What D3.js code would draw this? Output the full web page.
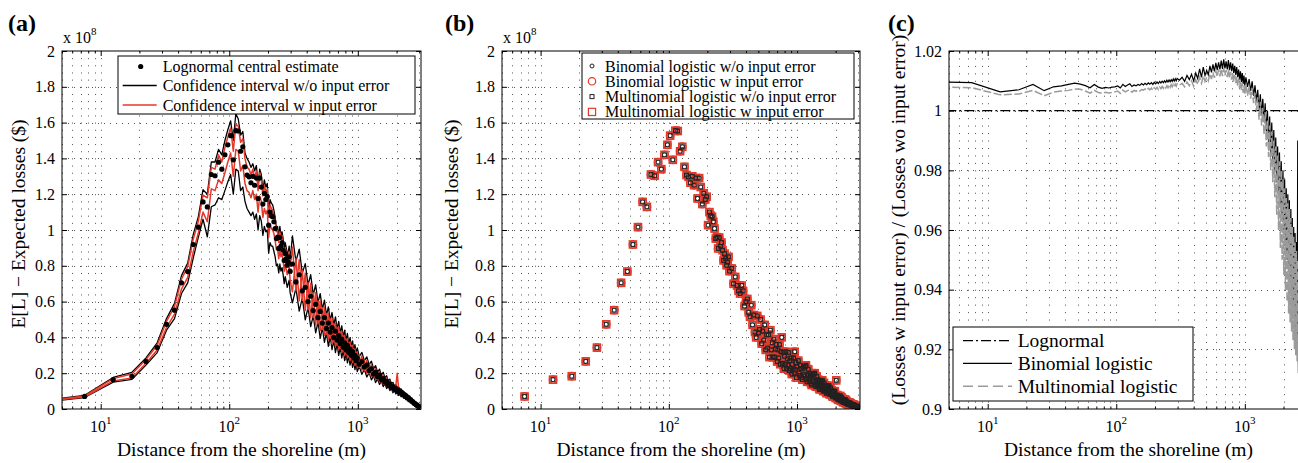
<!DOCTYPE html>
<html><head><meta charset="utf-8">
<script src="https://cdn.jsdelivr.net/npm/d3@7"></script>
<style>body{margin:0;background:#fff}</style>
</head><body><svg id="chart" width="1298" height="463" xmlns="http://www.w3.org/2000/svg"></svg>
<script>
// ---------- DATA ----------
// panel (a): distance bins (m)
const distance = [2.5,7.5,12.5,17.5,22.5,27.5,32.5,37.5,42.5,47.5,
52.5,57.5,62.5,67.5,72.5,77.5,82.5,87.5,92.5,97.5,
102.5,107.5,112.5,117.5,122.5,127.5,132.5,137.5,142.5,147.5,
152.5,157.5,162.5,167.5,172.5,177.5,182.5,187.5,192.5,197.5,
202.5,207.5,212.5,217.5,222.5,227.5,232.5,237.5,242.5,247.5,
252.5,257.5,262.5,267.5,272.5,277.5,282.5,287.5,292.5,297.5,
310,330,350,370,390,410,430,450,470,490,
510,530,550,570,590,610,630,650,670,690,
710,730,750,770,790,810,830,850,870,890,
910,930,950,970,990,
1025,1075,1125,1175,1225,1275,1325,1375,1425,1475,
1525,1575,1625,1675,1725,1775,1825,1875,1925,1975,
2025,2075,2125,2175,2225,2275,2325,2375,2425,2475,
2525,2575,2625,2675,2725,2775,2825,2875,2925,2975];

// expected losses, units of 1e8 $
const lognormalCentral = [0.030,0.070,0.164,0.183,0.266,0.343,0.473,0.552,0.705,0.768,
0.919,1.016,1.157,1.129,1.310,1.303,1.379,1.340,1.420,1.476,
1.527,1.392,1.555,1.553,1.440,1.465,1.353,1.307,1.297,1.264,
1.300,1.250,1.290,1.176,1.290,1.240,1.145,1.205,1.170,1.186,
1.027,1.100,1.080,1.074,1.046,1.008,0.952,0.960,0.897,0.958,
0.910,0.930,0.887,0.830,0.868,0.840,0.803,0.820,0.850,0.770,
.81,.71,.75,.66,.68,.60,.63,.55,.585,.51,
.545,.48,.51,.45,.48,.43,.455,.40,.435,.385,
.41,.365,.39,.345,.37,.33,.355,.315,.335,.30,
.32,.285,.30,.27,.285,
.25,.265,.235,.245,.215,.225,.195,.205,.18,.19,
.165,.17,.15,.155,.135,.14,.12,.125,.11,.115,
.10,.105,.09,.094,.081,.083,.071,.073,.062,.063,
.052,.052,.043,.042,.033,.031,.025,.023,.017,.015];

const ciNoErrHi = [0.033,0.076,0.176,0.205,0.285,0.370,0.505,0.590,0.745,0.815,
0.975,1.075,1.225,1.200,1.380,1.380,1.450,1.420,1.500,1.560,
1.610,1.500,1.650,1.620,1.530,1.550,1.430,1.400,1.380,1.350,
1.370,1.330,1.360,1.250,1.340,1.310,1.220,1.280,1.240,1.260,
1.090,1.170,1.150,1.140,1.110,1.070,1.010,1.020,0.960,1.020,
0.970,0.990,0.950,0.890,0.930,0.900,0.860,0.880,0.910,0.830,
.967,.825,.893,.759,.812,.693,.75,.638,.694,.594,
.645,.556,.608,.523,.57,.495,.539,.468,.515,.446,
.49,.424,.465,.402,.44,.382,.422,.363,.399,.347,
.381,.33,.36,.311,.341,
.292,.316,.27,.291,.248,.267,.226,.242,.206,.223,
.189,.205,.173,.186,.156,.167,.14,.149,.127,.136,
.116,.124,.105,.112,.094,.099,.083,.087,.072,.074,
.061,.062,.05,.05,.039,.037,.029,.027,.02,.017];

const ciNoErrLo = [0.027,0.064,0.150,0.166,0.245,0.315,0.440,0.505,0.645,0.705,
0.845,0.960,1.060,0.962,1.130,1.140,1.180,1.170,1.220,1.270,
1.310,1.200,1.340,1.330,1.220,1.240,1.160,1.120,1.100,1.080,
1.100,1.060,1.090,1.000,1.080,1.050,0.970,1.020,0.990,1.000,
0.870,0.930,0.910,0.910,0.880,0.850,0.800,0.810,0.760,0.810,
0.770,0.790,0.750,0.700,0.740,0.710,0.680,0.700,0.720,0.650,
.593,.675,.547,.621,.498,.567,.46,.522,.426,.486,
.395,.455,.372,.428,.35,.405,.331,.383,.315,.365,
.30,.347,.285,.329,.27,.312,.258,.297,.245,.284,
.233,.27,.22,.255,.209,
.239,.194,.221,.179,.203,.163,.185,.148,.168,.137,
.155,.125,.141,.114,.128,.103,.114,.091,.104,.084,
.095,.076,.086,.068,.077,.061,.068,.053,.059,.046,
.05,.038,.041,.03,.032,.023,.023,.017,.016,.011];

const ciErrHi = [0.032,0.073,0.170,0.196,0.276,0.356,0.490,0.572,0.725,0.795,
0.950,1.050,1.195,1.180,1.350,1.340,1.420,1.380,1.460,1.520,
1.570,1.440,1.590,1.580,1.490,1.510,1.400,1.350,1.340,1.310,
1.340,1.290,1.330,1.220,1.320,1.280,1.190,1.250,1.210,1.230,
1.070,1.140,1.120,1.110,1.080,1.050,0.990,1.000,0.930,0.990,
0.950,0.970,0.920,0.860,0.900,0.870,0.840,0.850,0.880,0.800,
.905,.66,.835,.607,.76,.554,.702,.51,.65,.475,
.603,.444,.568,.418,.534,.396,.505,.374,.481,.356,
.458,.339,.435,.321,.412,.305,.394,.29,.374,.277,
.356,.264,.336,.249,.319,
.233,.296,.216,.273,.198,.249,.18,.226,.165,.209,
.151,.191,.138,.174,.125,.157,.112,.139,.101,.128,
.20,.116,.084,.104,.075,.093,.066,.081,.057,.07,
.048,.058,.04,.046,.031,.035,.023,.026,.016,.016];

const ciErrLo = [0.028,0.067,0.157,0.173,0.255,0.330,0.455,0.530,0.670,0.735,
0.880,0.985,1.100,1.046,1.230,1.220,1.280,1.260,1.320,1.380,
1.430,1.300,1.450,1.440,1.330,1.360,1.260,1.220,1.210,1.180,
1.220,1.170,1.200,1.100,1.190,1.160,1.070,1.120,1.090,1.110,
0.960,1.030,1.010,1.000,0.980,0.940,0.890,0.900,0.840,0.890,
0.850,0.870,0.830,0.770,0.810,0.780,0.750,0.760,0.790,0.720,
.655,.84,.605,.773,.55,.706,.508,.65,.47,.605,
.437,.566,.412,.532,.386,.504,.365,.476,.349,.454,
.332,.431,.315,.409,.298,.389,.286,.37,.27,.353,
.258,.336,.244,.317,.231,
.297,.214,.274,.197,.252,.181,.23,.164,.209,.151,
.193,.139,.176,.126,.159,.113,.142,.101,.129,.092,
.118,.084,.106,.076,.095,.067,.084,.059,.073,.05,
.062,.042,.05,.034,.039,.025,.029,.018,.02,.012];

// panel (b): the four logistic series coincide visually
const logisticDist = [7.5,12.5,17.5,22.5,27.5,32.5,37.5,42.5,47.5,
52.5,57.5,62.5,67.5,72.5,77.5,82.5,87.5,92.5,97.5,
102.5,107.5,112.5,117.5,122.5,127.5,132.5,137.5,142.5,147.5,
152.5,157.5,162.5,167.5,172.5,177.5,182.5,187.5,192.5,197.5,
202.5,207.5,212.5,217.5,222.5,227.5,232.5,237.5,242.5,247.5,
252.5,257.5,262.5,267.5,272.5,277.5,282.5,287.5,292.5,297.5,
310,320,330,340,350,360,370,380,390,400,
410,420,430,440,450,460,470,480,490,500,
510,520,530,540,550,560,570,580,590,600,
610,620,630,640,650,660,670,680,690,700,
710,720,730,740,750,760,770,780,790,800,
810,820,830,840,850,860,870,880,890,900,
910,920,930,940,950,960,970,980,990,1000,
1025,1050,1075,1100,1125,1150,1175,1200,1225,1250,
1275,1300,1325,1350,1375,1400,1425,1450,1475,1500,
1525,1550,1575,1600,1625,1650,1675,1700,1725,1750,
1775,1800,1825,1850,1875,1900,1925,1950,1975,2000,
2025,2050,2075,2100,2125,2150,2175,2200,2225,2250,
2275,2300,2325,2350,2375,2400,2425,2450,2475,2500,
2525,2550,2575,2600,2625,2650,2675,2700,2725,2750,
2775,2800,2825,2850,2875,2900,2925,2950,2975,3000,
1037.5,1062.5,1087.5,1112.5,1137.5,1162.5,1187.5,1212.5,1237.5,1262.5,
1287.5,1312.5,1337.5,1362.5,1387.5,1412.5,1437.5,1462.5,1487.5,1512.5,
1537.5,1562.5,1587.5,1612.5,1637.5,1662.5,1687.5,1712.5,1737.5,1762.5,
1787.5,1812.5,1837.5,1862.5,1887.5,1912.5,1937.5,1962.5,1987.5,2012.5,
2037.5,2062.5,2087.5,2112.5,2137.5,2162.5,2187.5,2212.5,2237.5,2262.5,
2287.5,2312.5,2337.5,2362.5,2387.5,2412.5,2437.5,2462.5,2487.5,2512.5,
2537.5,2562.5,2587.5,2612.5,2637.5,2662.5,2687.5,2712.5,2737.5,2762.5,
2787.5,2812.5,2837.5,2862.5,2887.5,2912.5,2937.5,2962.5,2987.5];

const logisticLoss = [0.070,0.164,0.183,0.266,0.343,0.473,0.552,0.705,0.768,
0.919,1.016,1.157,1.129,1.310,1.303,1.379,1.340,1.420,1.476,
1.527,1.392,1.555,1.553,1.440,1.465,1.353,1.307,1.297,1.264,
1.300,1.250,1.290,1.176,1.290,1.240,1.145,1.205,1.170,1.186,
1.027,1.100,1.080,1.074,1.046,1.008,0.952,0.960,0.897,0.958,
0.910,0.930,0.887,0.830,0.868,0.840,0.803,0.820,0.850,0.770,
.785,.70,.738,.69,.66,.645,.69,.66,.575,.60,
.615,.54,.515,.58,.47,.525,.43,.40,.52,.425,
.445,.50,.365,.435,.385,.47,.33,.415,.34,.415,
.29,.44,.33,.37,.29,.39,.29,.335,.36,.265,
.33,.285,.36,.25,.32,.40,.255,.315,.225,.295,
.25,.32,.225,.28,.245,.315,.215,.27,.225,.285,
.195,.25,.22,.285,.20,.32,.22,.26,.175,.235,
.27,.187,.226,.164,.236,.184,.244,.152,.222,.153,
.185,.134,.193,.151,.20,.125,.182,.126,.151,.109,
.156,.121,.16,.10,.146,.101,.122,.088,.127,.098,
.13,.081,.118,.081,.097,.069,.099,.076,.10,.062,
.16,.06,.071,.051,.071,.055,.073,.045,.065,.044,
.053,.037,.053,.040,.053,.032,.046,.031,.036,.025,
.036,.028,.035,.022,.031,.021,.024,.017,.024,.018,
.024,.014,.02,.014,.016,.011,.015,.011,.014,.008,
.200,.244,.174,.224,.192,.237,.166,.191,.164,.199,
.143,.184,.158,.194,.136,.157,.135,.164,.116,.149,
.127,.156,.109,.126,.108,.132,.094,.120,.103,.127,
.088,.101,.087,.105,.074,.0945,.080,.098,.0675,.077,
.065,.078,.0545,.0686,.058,.071,.049,.056,.048,.057,
.040,.051,.043,.052,.035,.040,.033,.039,.027,.034,
.029,.035,.024,.027,.023,.027,.018,.023,.019,.023,
.016,.018,.015,.017,.012,.015,.012,.014,.009];

// panel (c)
const ratioDist = [2.5,7.5,12.5,17.5,22.5,27.5,32.5,37.5,42.5,47.5,
52.5,57.5,62.5,67.5,72.5,77.5,82.5,87.5,92.5,97.5,
102.5,107.5,112.5,117.5,122.5,127.5,132.5,137.5,142.5,147.5,
152.5,157.5,162.5,167.5,172.5,177.5,182.5,187.5,192.5,197.5,
202.5,207.5,212.5,217.5,222.5,227.5,232.5,237.5,242.5,247.5,
252.5,257.5,262.5,267.5,272.5,277.5,282.5,287.5,292.5,297.5,
310,325,340,355,370,385,400,415,430,445,460,475,490,505,520,535,550,565,580,595,
610,625,640,655,670,685,700,715,730,745,760,775,790,805,820,835,850,865,880,895,
910,925,940,955,970,985,1000,
1020,1050,1080,1110,1140,1170,1200,1230,1260,1290,1320,1350,1380,1410,1440,1470,1500,1530,1560,1590,
1620,1650,1680,1710,1740,1770,1800,1830,1860,1890,1920,1950,1980,2010,2040,2070,2100,2130,2160,2190,
2220,2250,2280,2310,2340,2370,2400,2430,2460,2490,2520,2550,2580,2610,2640,2670,2700,2730,2760,2790,
2820,2850,2880,2910,2940,2970,3000];

const binomialRatio = [1.0099,1.0094,1.0063,1.0070,1.0088,1.0067,1.0080,1.0083,1.0088,1.0092,
1.0089,1.0084,1.0077,1.0088,1.0079,1.0075,1.0078,1.0076,1.0079,1.0080,
1.0083,1.0076,1.0088,1.0081,1.0086,1.0090,1.0081,1.0086,1.0083,1.0088,
1.0085,1.0091,1.0086,1.0092,1.0087,1.0093,1.0089,1.0094,1.0088,1.0095,
1.0090,1.0096,1.0091,1.0098,1.0093,1.0099,1.0094,1.0100,1.0095,1.0102,
1.0096,1.0103,1.0097,1.0104,1.0098,1.0106,1.0099,1.0107,1.0100,1.0108,
1.0102,1.0112,1.0098,1.0118,1.0104,1.0122,1.0100,1.0126,1.0108,1.0140,1.0112,1.0146,1.0118,1.0135,1.0120,1.0150,1.0128,1.0155,1.0132,1.0160,
1.0136,1.0162,1.0138,1.0168,1.0140,1.0172,1.0142,1.0165,1.0138,1.0170,1.0136,1.0162,1.0132,1.0158,1.0126,1.0150,1.0120,1.0146,1.0112,1.0138,
1.0104,1.0132,1.0096,1.0126,1.0090,1.0118,1.0084,
1.0112,1.0080,1.0106,1.0066,1.0098,1.0050,1.0085,1.0030,1.0070,1.0000,1.0055,0.9985,1.0040,0.9962,1.0025,0.9930,1.0000,0.9895,0.9980,0.9850,
0.9960,0.9820,0.9935,0.9800,0.9910,0.9760,0.9880,0.9720,0.9860,0.9680,0.9830,0.9640,0.9800,0.9600,0.9770,0.9550,0.9740,0.9500,0.9720,0.9460,
0.9700,0.9420,0.9670,0.9380,0.9640,0.9340,0.9610,0.9300,0.9590,0.9260,0.9560,0.9220,0.9900,0.9120,0.9600,0.9150,0.9550,0.9130,0.9500,0.9120,
0.9450,0.9110,0.9400,0.9100,0.9350,0.9100,0.9300];

const multinomialRatio = [1.0081,1.0077,1.0053,1.0056,1.0068,1.0050,1.0062,1.0066,1.0068,1.0073,
1.0072,1.0066,1.0059,1.0068,1.0061,1.0058,1.0062,1.0059,1.0061,1.0063,
1.0066,1.0058,1.0069,1.0063,1.0067,1.0070,1.0062,1.0068,1.0065,1.0070,
1.0066,1.0071,1.0069,1.0073,1.0068,1.0075,1.0070,1.0076,1.0068,1.0077,
1.0072,1.0078,1.0071,1.0079,1.0074,1.0081,1.0075,1.0082,1.0076,1.0084,
1.0077,1.0085,1.0078,1.0087,1.0080,1.0088,1.0081,1.0089,1.0082,1.0090,
1.0085,1.0092,1.0080,1.0096,1.0084,1.0100,1.0082,1.0104,1.0088,1.0112,1.0092,1.0116,1.0098,1.0112,1.0100,1.0124,1.0106,1.0128,1.0110,1.0134,
1.0114,1.0138,1.0115,1.0140,1.0116,1.0142,1.0118,1.0136,1.0112,1.0138,1.0108,1.0130,1.0104,1.0126,1.0098,1.0120,1.0092,1.0114,1.0084,1.0108,
1.0076,1.0100,1.0068,1.0092,1.0060,1.0084,1.0054,
1.0088,1.0050,1.0082,1.0040,1.0075,1.0025,1.0060,1.0000,1.0045,0.9970,1.0030,0.9950,1.0010,0.9920,0.9995,0.9880,0.9970,0.9845,0.9950,0.9800,
0.9930,0.9760,0.9900,0.9710,0.9880,0.9650,0.9850,0.9600,0.9830,0.9540,0.9800,0.9500,0.9770,0.9450,0.9740,0.9400,0.9710,0.9360,0.9690,0.9320,
0.9670,0.9290,0.9640,0.9260,0.9610,0.9230,0.9580,0.9200,0.9560,0.9180,0.9530,0.9160,0.9500,0.9150,0.9480,0.9140,0.9450,0.9130,0.9420,0.9120,
0.9400,0.9110,0.9380,0.9100,0.9360,0.9100,0.9340];

const lognormalRatioDist = [2.5, 3000];
const lognormalRatio = [1, 1];

// ticks
const decadeTicks = [10, 100, 1000];
const decadeExp = ["1", "2", "3"];
const lossTicks = [0,0.2,0.4,0.6,0.8,1,1.2,1.4,1.6,1.8,2];
const lossLabels = ["0","0.2","0.4","0.6","0.8","1","1.2","1.4","1.6","1.8","2"];
const ratioTicks = [0.9,0.92,0.94,0.96,0.98,1,1.02];
const ratioLabels = ["0.9","0.92","0.94","0.96","0.98","1","1.02"];

// sanity check of lengths
[[distance,lognormalCentral,"central"],[distance,ciNoErrHi,"bh"],[distance,ciNoErrLo,"bl"],[distance,ciErrHi,"rh"],
 [distance,ciErrLo,"rl"],[logisticDist,logisticLoss,"logit"],[ratioDist,binomialRatio,"binR"],[ratioDist,multinomialRatio,"mulR"]]
 .forEach(([a,b,n]) => { if (a.length !== b.length) throw new Error(n+" length "+a.length+" vs "+b.length); });

// ---------- DRAWING ----------
const FONT = "'Liberation Serif','Times New Roman',Times,serif";
const RED = "#e4382a";
const GRAY = "#9b9b9b";
const svg = d3.select("#chart");
const defs = svg.append("defs");
const xDomain = [5, 3100];
const minorX = [];
[1,10,100,1000].forEach(d => { for (let k=2;k<=9;k++){ const v=k*d; if (v>=xDomain[0] && v<=xDomain[1]) minorX.push(v);} });

function panel(cfg) {
  const {L,R,T,B} = cfg;
  const x = d3.scaleLog().domain(xDomain).range([L,R]);
  const y = d3.scaleLinear().domain(cfg.yDomain).range([B,T]);
  const g = svg.append("g");
  defs.append("clipPath").attr("id","clip"+cfg.id).append("rect")
     .attr("x",L).attr("y",T).attr("width",R-L).attr("height",B-T);

  // dotted grid: vertical at major+minor x ticks, horizontal at major y ticks
  const grid = g.append("g").attr("stroke","#1a1a1a").attr("stroke-width",1)
     .attr("fill","none").attr("opacity",0.75);
  grid.append("g").attr("stroke-dasharray","1,"+cfg.dotGap).selectAll("line").data(decadeTicks.concat(minorX)).join("line")
     .attr("x1",d=>Math.round(x(d))+0.5).attr("x2",d=>Math.round(x(d))+0.5).attr("y1",T).attr("y2",B);
  grid.append("g").attr("stroke-dasharray","1,5").selectAll("line").data(cfg.yTicks.slice(1,-1)).join("line")
     .attr("x1",L).attr("x2",R).attr("y1",d=>Math.round(y(d))+0.5).attr("y2",d=>Math.round(y(d))+0.5);

  // axes (inward ticks on all sides)
  const ax = g.append("g");
  ax.append("g").attr("transform",`translate(0,${B})`).call(d3.axisBottom(x).tickValues(decadeTicks).tickSize(-5).tickFormat(""));
  ax.append("g").attr("transform",`translate(0,${B})`).call(d3.axisBottom(x).tickValues(minorX).tickSize(-2.5).tickFormat(""));
  ax.append("g").attr("transform",`translate(0,${T})`).call(d3.axisTop(x).tickValues(decadeTicks).tickSize(-5).tickFormat(""));
  ax.append("g").attr("transform",`translate(0,${T})`).call(d3.axisTop(x).tickValues(minorX).tickSize(-2.5).tickFormat(""));
  const yl = ax.append("g").attr("transform",`translate(${L},0)`)
     .call(d3.axisLeft(y).tickValues(cfg.yTicks).tickSize(-5).tickPadding(7).tickFormat((d,i)=>cfg.yLabels[i]));
  yl.selectAll("text").attr("font-family",FONT).attr("font-size",16).attr("fill","#000");
  ax.append("g").attr("transform",`translate(${R},0)`).call(d3.axisRight(y).tickValues(cfg.yTicks).tickSize(-5).tickFormat(""));
  ax.selectAll(".domain").remove();
  ax.selectAll("line").attr("stroke","#000");

  // x tick labels 10^n
  const xl = g.append("g").attr("font-family",FONT).attr("fill","#000");
  const t = xl.selectAll("text").data(decadeTicks).join("text")
     .attr("x",d=>x(d)).attr("y",B+23).attr("text-anchor","middle").attr("font-size",16);
  t.append("tspan").text("10");
  t.append("tspan").attr("font-size",11).attr("dy",-8).text((d,i)=>decadeExp[i]);

  // titles
  g.append("text").attr("x",(L+R)/2).attr("y",456).attr("text-anchor","middle")
     .attr("font-family",FONT).attr("font-size",19.5).text("Distance from the shoreline (m)");
  g.append("text").attr("transform",`translate(${cfg.ylx},${cfg.yly}) rotate(-90)`)
     .attr("text-anchor","middle").attr("font-family",FONT).attr("font-size",cfg.ylSize)
     .text(cfg.yTitle);
  g.append("text").attr("x",cfg.tagX).attr("y",31).attr("font-family",FONT)
     .attr("font-weight","bold").attr("font-size",24).text(cfg.tag);
  if (cfg.exp) {
    const e = g.append("text").attr("x",L+1).attr("y",43).attr("font-family",FONT).attr("font-size",16);
    e.append("tspan").text("x 10");
    e.append("tspan").attr("font-size",11).attr("dy",-8).text("8");
  }
  const data = g.append("g").attr("clip-path",`url(#clip${cfg.id})`);
  return {x, y, g, data, frame: () => g.append("rect").attr("x",L).attr("y",T).attr("width",R-L)
     .attr("height",B-T).attr("fill","none").attr("stroke","#000").attr("stroke-width",1)};
}

// ---- panel (a)
{
  const p = panel({id:"a", L:62, R:421, T:51, B:409, yDomain:[0,2], yTicks:lossTicks, yLabels:lossLabels,
    dotGap:6.16, ylx:25, yly:224, ylSize:19.5, yTitle:"E[L] − Expected losses ($)", tag:"(a)", tagX:8, exp:true});
  const line = arr => d3.line().x((d,i)=>p.x(distance[i])).y(d=>p.y(d))(arr);
  [ciNoErrHi, ciNoErrLo].forEach(a => p.data.append("path").attr("d",line(a)).attr("fill","none").attr("stroke","#000").attr("stroke-width",1.3).attr("stroke-linejoin","round"));
  [ciErrHi, ciErrLo].forEach(a => p.data.append("path").attr("d",line(a)).attr("fill","none").attr("stroke",RED).attr("stroke-width",1.5).attr("stroke-linejoin","round"));
  p.data.append("g").selectAll("circle").data(lognormalCentral).join("circle")
    .attr("cx",(d,i)=>p.x(distance[i])).attr("cy",d=>p.y(d)).attr("r",2.6).attr("fill","#000");
  p.frame();
  const lg = p.g.append("g").attr("font-family",FONT).attr("font-size",16);
  lg.append("rect").attr("x",118).attr("y",56).attr("width",297).attr("height",58).attr("fill","#fff").attr("stroke","#000");
  lg.append("circle").attr("cx",140.7).attr("cy",66.5).attr("r",2.6).attr("fill","#000");
  lg.append("line").attr("x1",122.7).attr("x2",156.7).attr("y1",85.5).attr("y2",85.5).attr("stroke","#000").attr("stroke-width",1.3);
  lg.append("line").attr("x1",122.7).attr("x2",156.7).attr("y1",105).attr("y2",105).attr("stroke",RED).attr("stroke-width",1.3);
  lg.append("text").attr("x",162.7).attr("y",72).text("Lognormal central estimate");
  lg.append("text").attr("x",162.7).attr("y",91).text("Confidence interval w/o input error");
  lg.append("text").attr("x",162.7).attr("y",110.5).text("Confidence interval w input error");
}

// ---- panel (b)
{
  const p = panel({id:"b", L:502, R:860, T:51, B:409, yDomain:[0,2], yTicks:lossTicks, yLabels:lossLabels,
    dotGap:6.16, ylx:458, yly:224, ylSize:19.5, yTitle:"E[L] − Expected losses ($)", tag:"(b)", tagX:445, exp:true});
  const pts = logisticLoss.map((v,i)=>[logisticDist[i], v]);
  const m = p.data.append("g").attr("fill","none");
  m.append("g").selectAll("circle").data(pts).join("circle").attr("cx",d=>p.x(d[0])).attr("cy",d=>p.y(d[1]))
    .attr("r",3.7).attr("stroke",RED).attr("stroke-width",1.4);
  m.append("g").selectAll("rect").data(pts).join("rect").attr("x",d=>p.x(d[0])-3.6).attr("y",d=>p.y(d[1])-3.6)
    .attr("width",7.2).attr("height",7.2).attr("stroke",RED).attr("stroke-width",1.4);
  m.append("g").selectAll("circle").data(pts).join("circle").attr("cx",d=>p.x(d[0])).attr("cy",d=>p.y(d[1]))
    .attr("r",2).attr("stroke","#222").attr("stroke-width",0.9);
  m.append("g").selectAll("rect").data(pts).join("rect").attr("x",d=>p.x(d[0])-2).attr("y",d=>p.y(d[1])-2)
    .attr("width",4).attr("height",4).attr("stroke","#222").attr("stroke-width",0.9);
  p.frame();
  const lg = p.g.append("g").attr("font-family",FONT).attr("font-size",16);
  lg.append("rect").attr("x",582).attr("y",53).attr("width",272).attr("height",66).attr("fill","#fff").attr("stroke","#000");
  const rows = [66, 81.3, 96.6, 111.9];
  lg.append("circle").attr("cx",592).attr("cy",rows[0]).attr("r",2).attr("fill","none").attr("stroke","#222");
  lg.append("circle").attr("cx",592).attr("cy",rows[1]).attr("r",3.7).attr("fill","none").attr("stroke",RED).attr("stroke-width",1.2);
  lg.append("rect").attr("x",590).attr("y",rows[2]-2).attr("width",4).attr("height",4).attr("fill","none").attr("stroke","#222");
  lg.append("rect").attr("x",588.4).attr("y",rows[3]-3.6).attr("width",7.2).attr("height",7.2).attr("fill","none").attr("stroke",RED).attr("stroke-width",1.2);
  ["Binomial logistic w/o input error","Binomial logistic w input error",
   "Multinomial logistic w/o input error","Multinomial logistic w input error"].forEach((s,i)=>
    lg.append("text").attr("x",605).attr("y",rows[i]+5.5).text(s));
}

// ---- panel (c)
{
  const p = panel({id:"c", L:949, R:1308, T:51, B:409, yDomain:[0.9,1.02], yTicks:ratioTicks, yLabels:ratioLabels,
    dotGap:6.46, ylx:905, yly:220, ylSize:19.5, yTitle:"(Losses w input error) / (Losses wo input error)", tag:"(c)", tagX:888, exp:false});
  const line = (xs, arr) => d3.line().x((d,i)=>p.x(xs[i])).y(d=>p.y(d))(arr);
  p.data.append("path").attr("d",line(lognormalRatioDist, lognormalRatio)).attr("fill","none")
    .attr("stroke","#000").attr("stroke-width",1.2).attr("stroke-dasharray","10,3,2,3");
  p.data.append("path").attr("d",line(ratioDist, binomialRatio)).attr("fill","none")
    .attr("stroke","#000").attr("stroke-width",1.2);
  p.data.append("path").attr("d",line(ratioDist, multinomialRatio)).attr("fill","none")
    .attr("stroke",GRAY).attr("stroke-width",1.5).attr("stroke-dasharray","8,2.5");
  p.frame();
  const lg = p.g.append("g").attr("font-family",FONT).attr("font-size",19.5);
  lg.append("rect").attr("x",953).attr("y",327).attr("width",240).attr("height",74).attr("fill","#fff").attr("stroke","#000");
  const rows = [340.7, 363.3, 386.3];
  lg.append("line").attr("x1",963).attr("x2",1012).attr("y1",rows[0]).attr("y2",rows[0]).attr("stroke","#000").attr("stroke-width",1.2).attr("stroke-dasharray","10,3,2,3");
  lg.append("line").attr("x1",963).attr("x2",1012).attr("y1",rows[1]).attr("y2",rows[1]).attr("stroke","#000").attr("stroke-width",1.3);
  lg.append("line").attr("x1",963).attr("x2",1012).attr("y1",rows[2]).attr("y2",rows[2]).attr("stroke",GRAY).attr("stroke-width",1.4).attr("stroke-dasharray","10,5");
  ["Lognormal","Binomial logistic","Multinomial logistic"].forEach((s,i)=>
    lg.append("text").attr("x",1017.7).attr("y",rows[i]+6.5).text(s));
}
</script></body></html>
